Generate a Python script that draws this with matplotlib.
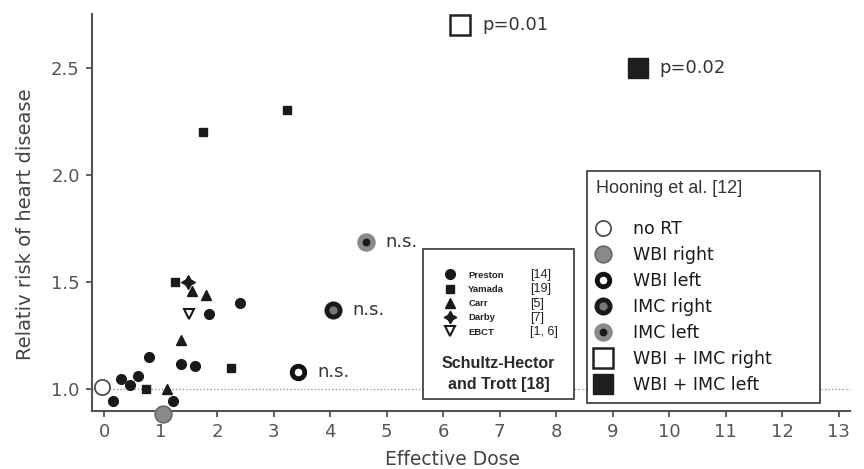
import matplotlib
matplotlib.use('Agg')
import matplotlib.pyplot as plt
from matplotlib.lines import Line2D
from matplotlib.patches import Rectangle

plt.rcParams['font.family'] = ['DejaVu Sans']

# Schultz-Hector and Trott [18] pooled studies
preston_x = [0.15, 0.29, 0.45, 0.60, 0.80, 1.21, 1.36, 1.60, 1.86, 2.40]
preston_y = [0.947, 1.048, 1.02, 1.06, 1.15, 0.947, 1.12, 1.11, 1.35, 1.40]
yamada_x = [0.74, 1.25, 2.24, 1.75, 3.24]
yamada_y = [1.00, 1.50, 1.10, 2.20, 2.30]
carr_x = [1.11, 1.36, 1.56, 1.80]
carr_y = [1.00, 1.23, 1.46, 1.44]
darby_x = [1.49]
darby_y = [1.50]
ebct_x = [1.50]
ebct_y = [1.35]

studies = ['Preston', 'Yamada', 'Carr', 'Darby', 'EBCT']
study_refs = ['[14]', '[19]', '[5]', '[7]', '[1, 6]']

# Hooning et al. [12]
hooning_labels = ['no RT', 'WBI right', 'WBI left', 'IMC right', 'IMC left',
                  'WBI + IMC right', 'WBI + IMC left']
hooning_x = [-0.03, 1.04, 3.43, 4.05, 4.64, 6.30, 9.44]
hooning_y = [1.01, 0.885, 1.08, 1.37, 1.685, 2.70, 2.50]
hooning_note = ['', '', 'n.s.', 'n.s.', 'n.s.', 'p=0.01', 'p=0.02']

x_ticks = list(range(0, 14))
y_ticks = [1.0, 1.5, 2.0, 2.5]

narrow = ['Liberation Sans Narrow', 'Liberation Sans']

fig = plt.figure(figsize=(8.64, 4.69), dpi=100)
ax = fig.add_axes([0.1068, 0.1243, 0.8770, 0.8459])

ax.axhline(1.0, color='#999999', lw=1.0, ls=(0, (1, 1.5)), zorder=1)

k = dict(ls='none', color='#1a1a1a', zorder=5)
ax.plot(preston_x, preston_y, marker='o', ms=7, **k)
ax.plot(yamada_x, yamada_y, marker='s', ms=6, **k)
ax.plot(carr_x, carr_y, marker='^', ms=7, **k)
ax.plot(darby_x, darby_y, marker=(4, 1, 0), ms=10, **k)
ax.plot(ebct_x, ebct_y, marker='v', ms=7, mfc='white', mec='#1a1a1a', mew=1.5,
        ls='none', zorder=5)

# Hooning marker styles
h_styles = [
    dict(marker='o', ms=11, mfc='white', mec='#444444', mew=1.2),
    dict(marker='o', ms=12, mfc='#8a8a8a', mec='#666666', mew=1.2),
    dict(marker='o', ms=9, mfc='white', mec='#111111', mew=3.5),
    dict(marker='o', ms=9.5, mfc='#777777', mec='#1a1a1a', mew=3.5),
    dict(marker='o', ms=9.5, mfc='#1a1a1a', mec='#8a8a8a', mew=3.8),
    dict(marker='s', ms=15, mfc='white', mec='#222222', mew=1.8),
    dict(marker='s', ms=15, mfc='#1e1e1e', mec='#1e1e1e', mew=1.0),
]
h_handles = []
for i in range(len(hooning_labels)):
    line, = ax.plot([hooning_x[i]], [hooning_y[i]], ls='none', zorder=6,
                    clip_on=False, **h_styles[i])
    h_handles.append(line)
    if hooning_note[i]:
        off = 14 if i < 5 else 16
        ax.annotate(hooning_note[i], (hooning_x[i], hooning_y[i]),
                    xytext=(off, 0), textcoords='offset points',
                    va='center', ha='left', fontsize=13, color='#333333')

ax.set_xlim(-0.21, 13.2)
ax.set_ylim(0.90, 2.75)
ax.set_xticks(x_ticks)
ax.set_yticks(y_ticks)
ax.set_yticklabels([f'{v:.1f}' for v in y_ticks])
for s in ['top', 'right']:
    ax.spines[s].set_visible(False)
for s in ['left', 'bottom']:
    ax.spines[s].set_color('#555555')
    ax.spines[s].set_linewidth(1.5)
ax.tick_params(axis='both', colors='#555555', labelcolor='#555555',
               labelsize=13, length=4, width=1.3)
ax.tick_params(axis='x', pad=5)
ax.tick_params(axis='y', pad=5)
ax.set_xlabel('Effective Dose', fontsize=13.5, color='#444444')
ax.set_ylabel('Relativ risk of heart disease', fontsize=14, color='#444444')
ax.xaxis.set_label_coords(0.476, -0.10)
ax.yaxis.set_label_coords(-0.076, 0.47)

# Schultz-Hector box
ax.add_patch(Rectangle((0.436, 0.0295), 0.200, 0.3785, transform=ax.transAxes,
                       facecolor='white', edgecolor='#333333', lw=1.2, zorder=3))
s_handles = [
    Line2D([], [], ls='none', marker='o', ms=7, color='#1a1a1a'),
    Line2D([], [], ls='none', marker='s', ms=6, color='#1a1a1a'),
    Line2D([], [], ls='none', marker='^', ms=7, color='#1a1a1a'),
    Line2D([], [], ls='none', marker=(4, 1, 0), ms=9, color='#1a1a1a'),
    Line2D([], [], ls='none', marker='v', ms=7, mfc='white', mec='#1a1a1a', mew=1.5),
]
leg1 = ax.legend(s_handles, studies, loc='upper left', bbox_to_anchor=(0.457, 0.370),
                 frameon=False, handlelength=1.0, handletextpad=1.45,
                 labelspacing=0.56, borderpad=0.2,
                 prop={'family': ['Liberation Sans'], 'size': 6.8, 'weight': 'bold'})
leg1.set_zorder(7)
ax.add_artist(leg1)
for t, ref in zip(leg1.get_texts(), study_refs):
    t.set_color('#222222')
    ax.annotate(ref, xy=(0, 0.5), xycoords=t, xytext=(44.6, 0),
                textcoords='offset points', va='center', ha='left',
                fontsize=9, family=['Liberation Sans'], color='#222222', zorder=8)
ax.text(0.536, 0.118, 'Schultz-Hector', transform=ax.transAxes, ha='center',
        va='center', fontsize=11.5, fontweight='bold', color='#2a2a2a',
        family=narrow, zorder=7)
ax.text(0.536, 0.066, 'and Trott [18]', transform=ax.transAxes, ha='center',
        va='center', fontsize=11.5, fontweight='bold', color='#2a2a2a',
        family=narrow, zorder=7)

# Hooning legend
leg2 = ax.legend(h_handles, hooning_labels, title='Hooning et al. [12]',
                 loc='upper left', bbox_to_anchor=(0.653, 0.604, 0.307, 0.0),
                 mode='expand', borderaxespad=0, fancybox=False, framealpha=1,
                 edgecolor='#333333', handlelength=0.87, handletextpad=1.29,
                 labelspacing=0.46, borderpad=0.5, alignment='left',
                 prop={'family': ['DejaVu Sans'], 'size': 12.5},
                 title_fontproperties={'family': narrow, 'size': 13})
leg2._legend_box.sep = 17
leg2.get_frame().set_linewidth(1.2)
leg2.get_title().set_color('#333333')
for t in leg2.get_texts():
    t.set_color('#1a1a1a')
leg2.set_zorder(7)

fig.savefig('out.png', dpi=100, facecolor='white')
